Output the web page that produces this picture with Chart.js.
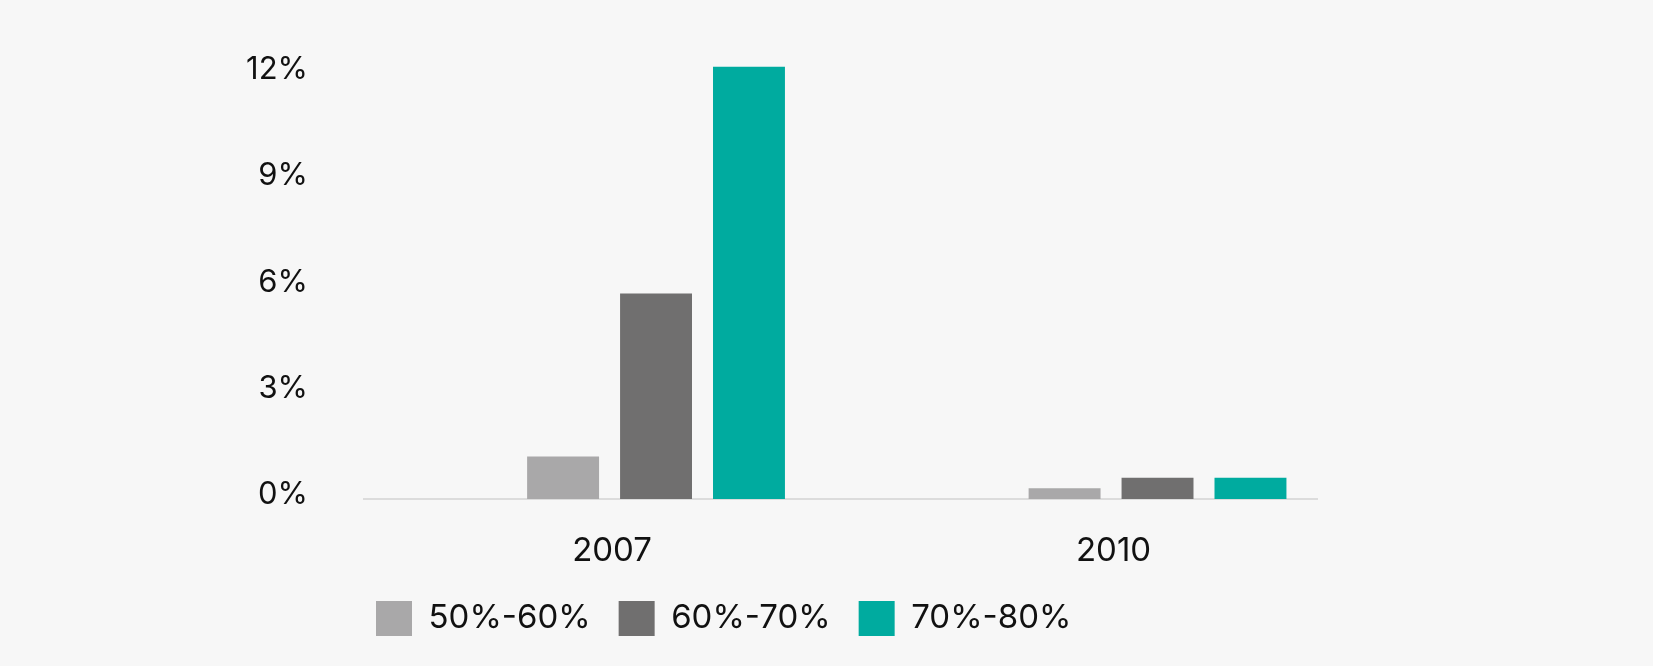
<!DOCTYPE html>
<html>
<head>
<meta charset="utf-8">
<script src="https://cdn.jsdelivr.net/npm/chart.js@4.4.1/dist/chart.umd.min.js"></script>
<style>
    html, body { margin: 0; padding: 0; background: #f7f7f7; }
    #wrap { width: 1653px; height: 666px; }
</style>
</head>
<body>
<div id="wrap"><canvas id="chart" width="1653" height="666"></canvas></div>
<script>
// Data
const years = ['2007', '2010'];
const bandLabels = ['50%-60%', '60%-70%', '70%-80%'];
const band5060 = [1.2, 0.3];
const band6070 = [5.8, 0.6];
const band7080 = [12.2, 0.6];
const yTicks = [0, 3, 6, 9, 12];
const bandColors = ['#a9a8a9', '#706f6f', '#00ab9f'];

const FONT = "Inter, 'Liberation Sans', sans-serif";
const LEGEND_GAP = 28;     // space between legend items
const LEGEND_INSET = 12;   // first legend box from the plot's left edge

// the legend puts its item gap before the first item too, so pull it back
const legendInset = {
    id: 'legendInset',
    afterLayout(chart) {
        chart.legend.left = chart.chartArea.left + LEGEND_INSET - LEGEND_GAP;
    }
};

const ctx = document.getElementById('chart').getContext('2d');
new Chart(ctx, {
    type: 'bar',
    data: {
        labels: years,
        datasets: [band5060, band6070, band7080].map((values, i) => ({
            label: bandLabels[i],
            data: values,
            backgroundColor: bandColors[i],
            borderWidth: 0,
            categoryPercentage: 0.556,
            barPercentage: 0.774
        }))
    },
    options: {
        responsive: false,
        animation: false,
        layout: {
            padding: { left: 224, right: 336, top: 56, bottom: 20 }
        },
        scales: {
            x: {
                type: 'linear',
                offset: false,
                min: 2005.253,
                max: 2010.954,
                afterBuildTicks: scale => {
                    scale.ticks = years.map(y => ({ value: +y }));
                },
                afterFit: scale => {
                    scale.height = 74;
                    scale.paddingLeft = 0;
                    scale.paddingRight = 0;
                },
                grid: { display: false, drawTicks: false },
                border: { display: true, color: '#dcdcdc', width: 2 },
                ticks: {
                    callback: value => String(value),
                    color: '#111',
                    font: { family: FONT, size: 33 },
                    padding: 32,
                    labelOffset: -44,
                    maxRotation: 0
                }
            },
            y: {
                min: 0,
                max: 12.5,
                afterBuildTicks: scale => {
                    scale.ticks = yTicks.map(v => ({ value: v }));
                },
                afterFit: scale => {
                    scale.width = 140;
                    scale.paddingTop = 0;
                    scale.paddingBottom = 0;
                },
                grid: { display: false, drawTicks: false },
                border: { display: false },
                ticks: {
                    callback: value => value + '%',
                    color: '#111',
                    font: { family: FONT, size: 31 },
                    padding: 56,
                    labelOffset: -4
                }
            }
        },
        plugins: {
            tooltip: { enabled: false },
            legend: {
                position: 'bottom',
                align: 'start',
                fullSize: false,
                labels: {
                    boxWidth: 36,
                    boxHeight: 35,
                    padding: LEGEND_GAP,
                    color: '#111',
                    font: { family: FONT, size: 33 }
                }
            }
        }
    },
    plugins: [legendInset]
});
</script>
</body>
</html>
